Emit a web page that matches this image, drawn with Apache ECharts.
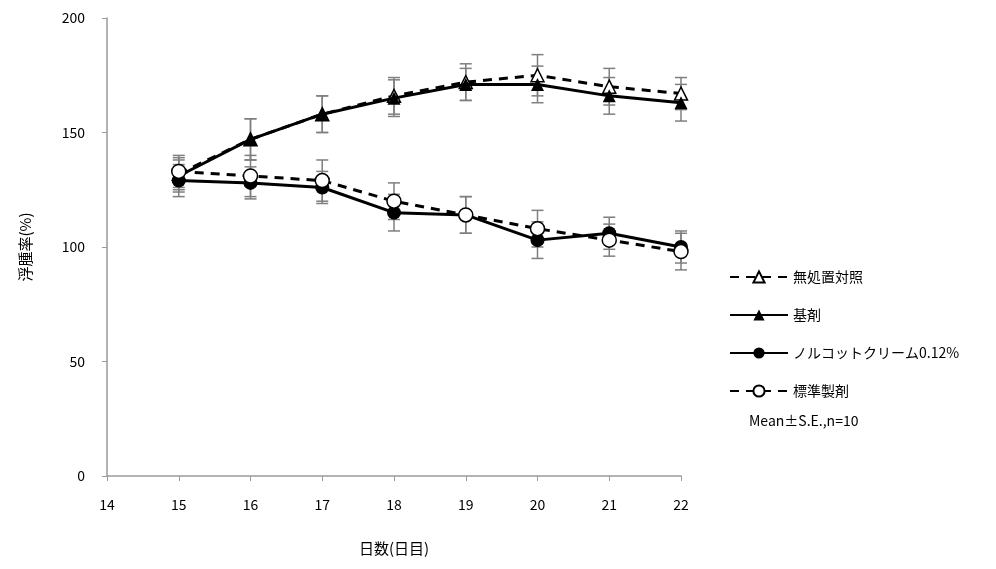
<!DOCTYPE html>
<html><head><meta charset="utf-8">
<script src="https://cdn.jsdelivr.net/npm/echarts@6/dist/echarts.min.js"></script>
<style>html,body{margin:0;padding:0;background:#fff}#c{width:996px;height:569px}</style>
</head><body><div id="c"></div>
<script>
var days = [15, 16, 17, 18, 19, 20, 21, 22];
var xTicks = [14, 15, 16, 17, 18, 19, 20, 21, 22];
var yTicks = [0, 50, 100, 150, 200];
var names = ['無処置対照', '基剤', 'ノルコットクリーム0.12%', '標準製剤'];
var control = [132, 147, 158, 166, 172, 175, 170, 167];
var controlSE = [7, 9, 8, 8, 8, 9, 8, 7];
var vehicle = [131, 147, 158, 165, 171, 171, 166, 163];
var vehicleSE = [7, 9, 8, 8, 7, 8, 8, 8];
var norcot = [129, 128, 126, 115, 114, 103, 106, 100];
var norcotSE = [7, 7, 7, 8, 8, 8, 7, 7];
var standard = [133, 131, 129, 120, 114, 108, 103, 98];
var standardSE = [7, 9, 9, 8, 8, 8, 7, 8];
var note = 'Mean±S.E.,n=10';

var FONT = '"Noto Sans CJK JP", sans-serif';
function pairs(v){ return days.map(function(d,i){ return [d, v[i]]; }); }
function errData(v, se){ return days.map(function(d,i){ return [d, v[i]-se[i], v[i]+se[i]]; }); }
function errSeries(v, se){
  return {
    type: 'custom', z: 1, silent: true,
    data: errData(v, se),
    renderItem: function(params, api){
      var x = api.value(0);
      var lo = api.coord([x, api.value(1)]);
      var hi = api.coord([x, api.value(2)]);
      var w = 6;
      var st = {stroke: '#7f7f7f', lineWidth: 1.5};
      return {type: 'group', children: [
        {type: 'line', shape: {x1: lo[0], y1: lo[1], x2: hi[0], y2: hi[1]}, style: st},
        {type: 'line', shape: {x1: lo[0]-w, y1: lo[1], x2: lo[0]+w, y2: lo[1]}, style: st},
        {type: 'line', shape: {x1: hi[0]-w, y1: hi[1], x2: hi[0]+w, y2: hi[1]}, style: st}
      ]};
    }
  };
}
function lineSeries(name, v, symbol, open, dashed, z){
  return {
    name: name, type: 'line', data: pairs(v), z: z,
    symbol: symbol, symbolSize: symbol === 'circle' ? 14 : 13,
    showSymbol: true,
    lineStyle: {color: '#000', width: 3, type: dashed ? [9, 7] : 'solid'},
    itemStyle: {color: open ? '#fff' : '#000', borderColor: '#000', borderWidth: open ? 1.5 : 0},
    emphasis: {disabled: true},
    animation: false
  };
}

var chart = echarts.init(document.getElementById('c'));
chart.setOption({
  animation: false,
  grid: {left: 107, right: 315, top: 18, bottom: 93},
  xAxis: {
    type: 'value', min: xTicks[0], max: xTicks[xTicks.length-1], interval: 1,
    name: '日数(日目)', nameLocation: 'middle', nameGap: 65,
    nameTextStyle: {color: '#000', fontSize: 15, fontFamily: FONT},
    axisLine: {lineStyle: {color: '#9a9a9a', width: 1.5}},
    axisTick: {show: true, length: 5, lineStyle: {color: '#9a9a9a'}},
    axisLabel: {color: '#000', fontSize: 14, margin: 22, fontFamily: FONT},
    splitLine: {show: false}
  },
  yAxis: {
    type: 'value', min: yTicks[0], max: yTicks[yTicks.length-1], interval: 50,
    name: '浮腫率(%)', nameLocation: 'middle', nameGap: 74, nameRotate: 90,
    nameTextStyle: {color: '#000', fontSize: 15, fontFamily: FONT},
    axisLine: {show: true, lineStyle: {color: '#9a9a9a', width: 1.5}},
    axisTick: {show: true, length: 5, lineStyle: {color: '#9a9a9a'}},
    axisLabel: {color: '#000', fontSize: 14, margin: 22, fontFamily: FONT},
    splitLine: {show: false}
  },
  legend: {
    orient: 'vertical', left: 724, top: 265, itemGap: 24,
    itemWidth: 58, itemHeight: 14,
    textStyle: {color: '#000', fontSize: 14, fontFamily: FONT},
    data: names
  },
  graphic: [{type: 'text', left: 749, top: 414,
    style: {text: note, fill: '#000', font: '14px ' + FONT}}],
  series: [
    errSeries(control, controlSE),
    errSeries(vehicle, vehicleSE),
    errSeries(norcot, norcotSE),
    errSeries(standard, standardSE),
    lineSeries(names[0], control, 'triangle', true, true, 3),
    lineSeries(names[1], vehicle, 'triangle', false, false, 4),
    lineSeries(names[2], norcot, 'circle', false, false, 3),
    lineSeries(names[3], standard, 'circle', true, true, 4)
  ]
});
</script></body></html>
